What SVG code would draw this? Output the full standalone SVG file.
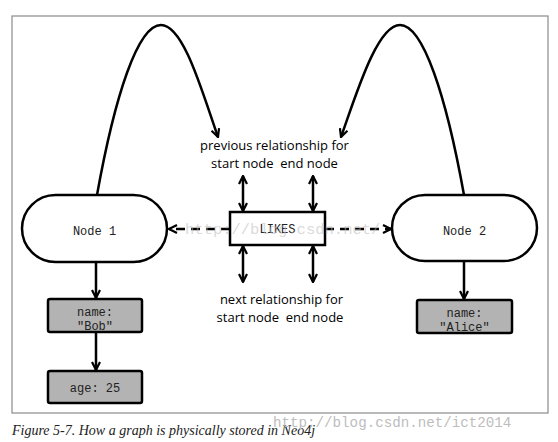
<svg xmlns="http://www.w3.org/2000/svg" width="558" height="442" viewBox="0 0 558 442">
<defs>
<style>
.frame{fill:#fff;stroke:#8a8a8a;stroke-width:1.2}
.node{fill:#fff;stroke:#000;stroke-width:2.5}
.prop{fill:#b3b3b3;stroke:#000;stroke-width:2.5}
.mono{font-family:"Liberation Mono","DejaVu Sans Mono",monospace;font-size:12px;fill:#222;text-anchor:middle}
.lbl{font-family:"Open Sans","Liberation Sans",sans-serif;font-size:13px;fill:#000;text-anchor:middle}
.line{fill:none;stroke:#000;stroke-width:2.5}
.dash{fill:none;stroke:#000;stroke-width:2.5;stroke-dasharray:9,6}
.cap{font-family:"Liberation Serif",serif;font-style:italic;font-size:14px;fill:#222}
.wm{font-family:"Liberation Mono","DejaVu Sans Mono",monospace;fill:#bdbdbd}
</style>
<marker id="ah" viewBox="0 0 10 10" refX="9" refY="5" markerWidth="10" markerHeight="10" markerUnits="userSpaceOnUse" orient="auto-start-reverse">
<path d="M1,1 L9,5 L1,9" fill="none" stroke="#000" stroke-width="2.2"/>
</marker>
</defs>
<rect width="558" height="442" fill="#fff"/>
<rect class="frame" x="12" y="16" width="536" height="397"/>

<g id="connectors">
<path class="line" d="M97,195 C115,95 138,25 161,25 C184,25 203,95 218,137" marker-end="url(#ah)"/>
<path class="line" d="M464,195 C446,95 423,25 400,25 C377,25 356,95 341,137" marker-end="url(#ah)"/>
<path class="dash" d="M230,229 L169,229" marker-end="url(#ah)"/>
<path class="dash" d="M325,229 L391,229" marker-end="url(#ah)"/>
<path class="line" d="M243,176 L243,211" marker-start="url(#ah)" marker-end="url(#ah)"/>
<path class="line" d="M313,176 L313,211" marker-start="url(#ah)" marker-end="url(#ah)"/>
<path class="line" d="M243,246 L243,282" marker-start="url(#ah)" marker-end="url(#ah)"/>
<path class="line" d="M313,246 L313,282" marker-start="url(#ah)" marker-end="url(#ah)"/>
<path class="line" d="M96,262 L96,298" marker-end="url(#ah)"/>
<path class="line" d="M96,332 L96,370" marker-end="url(#ah)"/>
<path class="line" d="M464,261 L464,299" marker-end="url(#ah)"/>
</g>

<g id="node1">
<rect class="node" x="22" y="195" width="145" height="67" rx="33.5"/>
<text class="mono" x="94.5" y="235">Node 1</text>
</g>
<g id="node2">
<rect class="node" x="392" y="195" width="145" height="66" rx="33"/>
<text class="mono" x="464.5" y="235">Node 2</text>
</g>
<g id="likes">
<rect class="node" x="230" y="212" width="95" height="33"/>
<text class="mono" x="277.5" y="233">LIKES</text>
</g>
<g id="bob-name">
<rect class="prop" x="48" y="299" width="94" height="33" rx="2"/>
<text class="mono" x="95" y="316">name:</text>
<text class="mono" x="95" y="330">"Bob"</text>
</g>
<g id="bob-age">
<rect class="prop" x="48" y="371" width="94" height="32" rx="2"/>
<text class="mono" x="95" y="392">age: 25</text>
</g>
<g id="alice-name">
<rect class="prop" x="417" y="300" width="95" height="33" rx="2"/>
<text class="mono" x="464.5" y="317">name:</text>
<text class="mono" x="464.5" y="331">"Alice"</text>
</g>

<g id="labels">
<text class="lbl" x="274.5" y="150">previous relationship for</text>
<text class="lbl" x="274.5" y="168" xml:space="preserve">start node  end node</text>
<text class="lbl" x="281.5" y="304">next relationship for</text>
<text class="lbl" x="280" y="322" xml:space="preserve">start node  end node</text>
</g>

<text class="wm" x="185" y="234" font-size="15.5" opacity="0.55">http://blog.csdn.net/</text>
<text class="cap" x="12" y="435">Figure 5-7. How a graph is physically stored in Neo4j</text>
<text class="wm" x="273" y="427" font-size="14.2">http://blog.csdn.net/ict2014</text>
</svg>
